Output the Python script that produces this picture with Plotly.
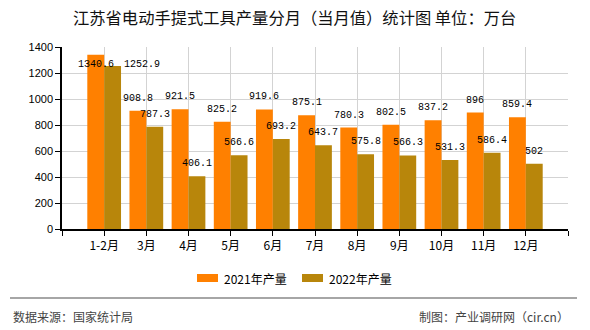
import plotly.graph_objects as go

# ---- data ----
categories = ["1-2月", "3月", "4月", "5月", "6月", "7月", "8月", "9月", "10月", "11月", "12月"]
series_2021 = [1340.6, 908.8, 921.5, 825.2, 919.6, 875.1, 780.3, 802.5, 837.2, 896, 859.4]
series_2022 = [1252.9, 787.3, 406.1, 566.6, 693.2, 643.7, 575.8, 566.3, 531.3, 586.4, 502]
series_names = ["2021年产量", "2022年产量"]
y_ticks = [0, 200, 400, 600, 800, 1000, 1200, 1400]

title_text = "江苏省电动手提式工具产量分月（当月值）统计图 单位：万台"
source_text = "数据来源：国家统计局"
credit_text = "制图：产业调研网（cir.cn）"

colors = ["#FF8000", "#B8860B"]

# ---- layout geometry (pixels) ----
W, H = 590, 330
ML, MR, MT, MB = 62, 22, 47, 101
PW = W - ML - MR
PH = H - MT - MB
YMAX = 1400
ppu = PH / YMAX  # pixels per unit


def px_x(px):
    return (px - ML) / PW


def px_y(py):
    return (H - MB - py) / PH


CJK = "Noto Sans CJK SC"
MONO = "Liberation Mono"

xs = list(range(len(categories)))

fig = go.Figure()
for name, vals, col in zip(series_names, [series_2021, series_2022], colors):
    fig.add_trace(go.Bar(x=xs, y=vals, name=name, marker=dict(color=col, line=dict(width=0)),
                         showlegend=False, hoverinfo="x+y"))

# ---- value labels ----
label_offset_px = 12.5
label_max = YMAX - 17 / ppu
char_w = 6.0
annotations = []
offsets = [-0.2, 0.2]
for i in xs:
    clamped = []
    for s, vals in enumerate([series_2021, series_2022]):
        v = vals[i]
        ly = v + label_offset_px / ppu
        c = ly > label_max
        clamped.append(c)
        ly = min(ly, label_max)
        xshift = 0
        if s == 1 and clamped[0] and c:
            w0 = len(str(series_2021[i])) * char_w
            w1 = len(str(v)) * char_w
            bar_sep = 0.4 * PW / 12
            xshift = (w0 + w1) / 2 - bar_sep + 10
        annotations.append(dict(x=i + offsets[s], y=ly, xref="x", yref="y", text=str(v),
                                showarrow=False, xshift=xshift, yanchor="middle",
                                font=dict(family=MONO, size=10, color="#000000")))

# ---- title ----
annotations.append(dict(x=px_x(294), y=px_y(17.5), xref="paper", yref="paper", text=title_text,
                        showarrow=False, xanchor="center", yanchor="middle",
                        font=dict(family=CJK, size=16.3, color="#111111")))

# ---- custom legend ----
shapes = []
legend_items = [(197, series_names[0], colors[0]), (302, series_names[1], colors[1])]
for x0, name, col in legend_items:
    shapes.append(dict(type="rect", xref="paper", yref="paper",
                       x0=px_x(x0), x1=px_x(x0 + 21), y0=px_y(282), y1=px_y(274),
                       fillcolor=col, line=dict(width=0)))
    annotations.append(dict(x=px_x(x0 + 25), y=px_y(278), xref="paper", yref="paper", text=name,
                            showarrow=False, xanchor="left", yanchor="middle",
                            font=dict(family=CJK, size=12, color="#000000")))

# ---- footer ----
shapes.append(dict(type="line", xref="paper", yref="paper",
                   x0=px_x(10), x1=px_x(577), y0=px_y(298), y1=px_y(298),
                   line=dict(color="#888888", width=1.5)))
annotations.append(dict(x=px_x(11), y=px_y(316.5), xref="paper", yref="paper", text=source_text,
                        showarrow=False, xanchor="left", yanchor="middle",
                        font=dict(family=CJK, size=12, color="#444444")))
annotations.append(dict(x=px_x(571), y=px_y(316.5), xref="paper", yref="paper", text=credit_text,
                        showarrow=False, xanchor="right", yanchor="middle",
                        font=dict(family=CJK, size=12, color="#444444")))

tickvals = [-1] + xs + [len(xs)]
ticktext = [""] + categories + [""]

fig.update_layout(
    width=W, height=H,
    margin=dict(l=ML, r=MR, t=MT, b=MB, pad=0),
    paper_bgcolor="white", plot_bgcolor="white",
    barmode="group", bargap=0.2, bargroupgap=0,
    showlegend=False,
    annotations=annotations,
    shapes=shapes,
    xaxis=dict(range=[-1, len(xs)], tickmode="array", tickvals=tickvals, ticktext=ticktext,
               showgrid=True, gridcolor="#d3d3d3", gridwidth=1,
               showline=True, linecolor="#000000", linewidth=1.5,
               ticks="outside", ticklen=5, tickcolor="#000000",
               tickfont=dict(family=CJK, size=12, color="#000000"), zeroline=False, fixedrange=True),
    yaxis=dict(range=[0, YMAX], tickmode="array", tickvals=y_ticks,
               showgrid=True, gridcolor="#d3d3d3", gridwidth=1,
               showline=True, linecolor="#000000", linewidth=1.5,
               ticks="outside", ticklen=5, tickcolor="#000000",
               tickfont=dict(family="Liberation Sans", size=11, color="#000000"),
               zeroline=False, fixedrange=True),
)

fig.write_html("out.html", config={"displayModeBar": False})
